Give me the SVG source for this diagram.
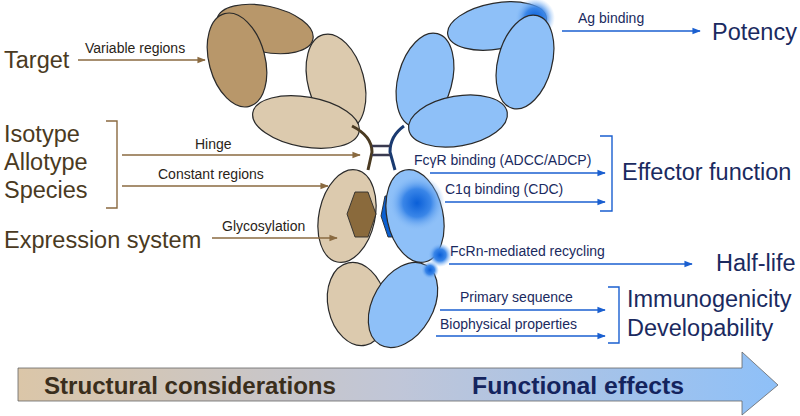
<svg xmlns="http://www.w3.org/2000/svg" width="800" height="416" viewBox="0 0 800 416">
<defs>
<style>
.t{font-family:"Liberation Sans",Arial,sans-serif}
.lb{fill:#4a3a22;font-size:23.5px}
.rb{fill:#1a2a60;font-size:23.5px}
.sl{fill:#2a2418;font-size:14px}
.sr{fill:#1a2a60;font-size:14px}
.ba{stroke:#8a6a40;stroke-width:1.4;fill:none;marker-end:url(#mb)}
.bb{stroke:#1a5fd0;stroke-width:1.4;fill:none;marker-end:url(#mu)}
.e{stroke:#2a2a2a;stroke-width:1.2}
.dk{fill:#b8976a}
.lt{fill:#dccaae}
.bl{fill:#8ec0f8}
</style>
<marker id="mb" viewBox="0 0 10 10" refX="9" refY="5" markerWidth="6" markerHeight="6" orient="auto"><path d="M0,1 L10,5 L0,9 z" fill="#8a6a40"/></marker>
<marker id="mu" viewBox="0 0 10 10" refX="9" refY="5" markerWidth="6" markerHeight="6" orient="auto"><path d="M0,1 L10,5 L0,9 z" fill="#1a5fd0"/></marker>
<radialGradient id="spot" cx="0.5" cy="0.5" r="0.5"><stop offset="0" stop-color="#0a5fd8"/><stop offset="0.5" stop-color="#3a86e8"/><stop offset="1" stop-color="#8ec0f8" stop-opacity="0"/></radialGradient>
<linearGradient id="bar" x1="0" x2="1" y1="0" y2="0"><stop offset="0" stop-color="#dbc6a8"/><stop offset="0.5" stop-color="#c0c6d8"/><stop offset="1" stop-color="#8ec0f8"/></linearGradient>
</defs>

<g id="antibody">
<ellipse class="e dk" cx="265" cy="29" rx="49" ry="23" transform="rotate(12 265 29)"/>
<ellipse class="e dk" cx="237" cy="60" rx="28" ry="48" transform="rotate(-15 237 60)"/>
<ellipse class="e lt" cx="336" cy="82" rx="28" ry="49" transform="rotate(-15 336 82)"/>
<ellipse class="e lt" cx="306" cy="122" rx="54" ry="25" transform="rotate(10 306 122)"/>
<ellipse class="e bl" cx="497" cy="26" rx="50" ry="23" transform="rotate(-10 497 26)"/>
<circle cx="535" cy="18" r="20" fill="url(#spot)"/>
<ellipse class="e bl" cx="525" cy="62" rx="27" ry="48" transform="rotate(15 525 62)"/>
<ellipse class="e bl" cx="425" cy="80" rx="27" ry="48" transform="rotate(15 425 80)"/>
<ellipse class="e bl" cx="458" cy="121" rx="50" ry="25" transform="rotate(-10 458 121)"/>
<path d="M352,126 Q372,136 372,152 L368,170" stroke="#4a3a22" stroke-width="3" fill="none"/>
<path d="M404,126 Q390,136 390,152 L395,170" stroke="#1a3a70" stroke-width="3" fill="none"/>
<path d="M372,146 H390 M372,155 H390" stroke="#3a3a50" stroke-width="2.5" fill="none"/>
<ellipse class="e lt" cx="347" cy="216" rx="28" ry="47" transform="rotate(12 347 216)"/>
<polygon points="355,192 368,192 376,214 368,237 355,237 347,214" fill="#8a6a3c" stroke="#2a2a2a" stroke-width="0.9"/>
<polygon points="385,196 396,196 396,237 388,237 381,216" fill="#0a5fd0" stroke="#2a2a2a" stroke-width="0.9"/>
<ellipse class="e bl" cx="415" cy="216" rx="28" ry="47" transform="rotate(-12 415 216)"/>
<circle cx="417" cy="203" r="28" fill="url(#spot)"/>
<circle cx="440" cy="255" r="12" fill="url(#spot)"/>
<ellipse class="e lt" cx="357" cy="304" rx="29" ry="42" transform="rotate(-12 357 304)"/>
<ellipse class="e bl" cx="403" cy="305" rx="30" ry="46" transform="rotate(30 403 305)"/>
<circle cx="430" cy="270" r="9" fill="url(#spot)"/>
</g>

<g id="left-labels" class="t">
<text class="lb" x="4" y="68">Target</text>
<text class="lb" x="4" y="142">Isotype</text>
<text class="lb" x="4" y="170">Allotype</text>
<text class="lb" x="4" y="198">Species</text>
<text class="lb" x="4" y="248">Expression system</text>
<path d="M106,121 H117 V208 H106" stroke="#8a6a40" stroke-width="1.4" fill="none"/>
<text class="sl" x="85" y="53">Variable regions</text>
<text class="sl" x="195" y="149">Hinge</text>
<text class="sl" x="158" y="179">Constant regions</text>
<text class="sl" x="222" y="231">Glycosylation</text>
</g>

<g id="right-labels" class="t">
<text class="rb" x="712" y="40">Potency</text>
<text class="rb" x="622" y="180">Effector function</text>
<text class="rb" x="716" y="271">Half-life</text>
<text class="rb" x="627" y="307">Immunogenicity</text>
<text class="rb" x="627" y="336">Developability</text>
<path d="M600,136 H612 V211 H600" stroke="#1a5fd0" stroke-width="1.4" fill="none"/>
<path d="M608,287 H619 V343 H608" stroke="#1a5fd0" stroke-width="1.4" fill="none"/>
<text class="sr" x="578" y="23">Ag binding</text>
<text class="sr" x="414" y="165">FcγR binding (ADCC/ADCP)</text>
<text class="sr" x="445" y="194">C1q binding (CDC)</text>
<text class="sr" x="450" y="256">FcRn-mediated recycling</text>
<text class="sr" x="460" y="302">Primary sequence</text>
<text class="sr" x="440" y="329">Biophysical properties</text>
</g>

<g id="connectors">
<path class="ba" d="M78,60 H205"/>
<path class="ba" d="M122,155 H360"/>
<path class="ba" d="M122,186 H328"/>
<path class="ba" d="M212,238 H337"/>
<path class="bb" d="M562,31 H700"/>
<path class="bb" d="M430,173 H605"/>
<path class="bb" d="M445,202 H605"/>
<path class="bb" d="M449,264 H692"/>
<path class="bb" d="M440,310 H605"/>
<path class="bb" d="M436,336 H605"/>
</g>

<g id="bottom-arrow">
<polygon points="18,368 742,368 742,352 778,385 742,415 742,401 18,401" fill="url(#bar)" stroke="#666" stroke-width="0.8"/>
<text class="t" x="44" y="394" font-size="23" font-weight="bold" fill="#3a2e1c" textLength="292" lengthAdjust="spacingAndGlyphs">Structural considerations</text>
<text class="t" x="472" y="394" font-size="23" font-weight="bold" fill="#14245e" textLength="212" lengthAdjust="spacingAndGlyphs">Functional effects</text>
</g>
</svg>
